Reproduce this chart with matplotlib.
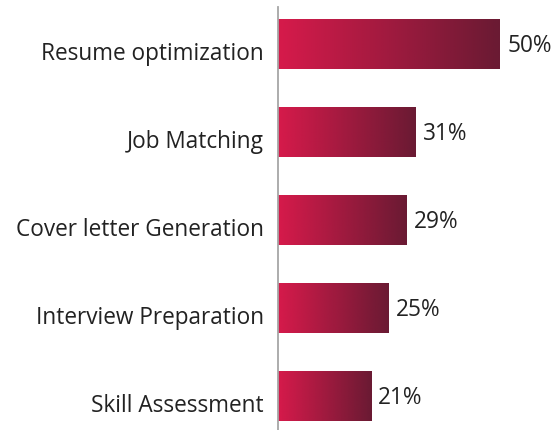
import numpy as np
import matplotlib
matplotlib.use("Agg")
import matplotlib.pyplot as plt
from matplotlib.colors import LinearSegmentedColormap

categories = ["Resume optimization", "Job Matching", "Cover letter Generation",
              "Interview Preparation", "Skill Assessment"]
values = [50, 31, 29, 25, 21]
value_labels = ["50%", "31%", "29%", "25%", "21%"]

plt.rcParams['font.family'] = ['Open Sans', 'DejaVu Sans']

W, H = 558, 431
fig = plt.figure(figsize=(W/100, H/100), dpi=100)
left = 278 / W
ax = fig.add_axes([left, 0, 1 - left, 1 - 8/H])

cmap = LinearSegmentedColormap.from_list("g", ["#d61a4b", "#6a1a33"])
grad = np.linspace(0, 1, 256).reshape(1, -1)
bh = 0.557
ys = np.arange(len(categories))
FS = 16.3
for y, v, lab in zip(ys, values, value_labels):
    ax.imshow(grad, cmap=cmap, aspect='auto', extent=[0, v, y + bh/2, y - bh/2],
              interpolation='bilinear', zorder=2)
    ax.text(v + 1.6, y + 0.01, lab, va='center', ha='left', fontsize=FS, color='#222222')

xmax = (W - 278) / 4.44
ax.set_xlim(0, xmax)
ax.set_ylim(4 + 33.5/88, -37.5/88)
ax.set_yticks(ys + 0.06)
ax.set_yticklabels(categories, fontsize=FS, color='#222222')
ax.tick_params(axis='y', length=0, pad=10)
ax.set_xticks([])
for s in ['top', 'right', 'bottom']:
    ax.spines[s].set_visible(False)
ax.spines['left'].set_color('#a6a6a6')
ax.spines['left'].set_linewidth(1.3)
ax.patch.set_visible(False)

fig.savefig("out.png", dpi=100)
